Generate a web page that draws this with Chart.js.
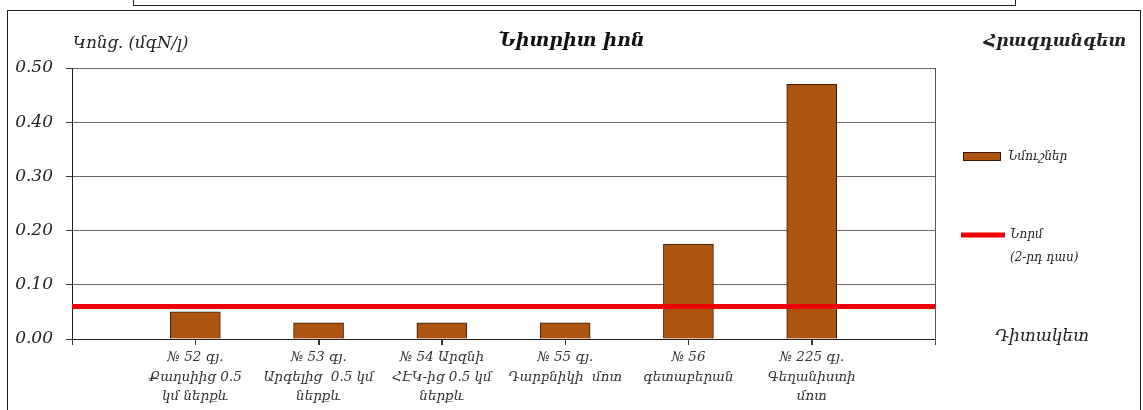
<!DOCTYPE html>
<html>
<head>
<meta charset="utf-8">
<script src="https://cdn.jsdelivr.net/npm/chart.js@4"></script>
<style>
  body { margin: 0; background: #fff; overflow: hidden; }
  #wrap { position: relative; width: 1143px; height: 410px; }
  #frame { position: absolute; left: 7px; top: 10px; width: 1132px; height: 420px; border: 1px solid #222; }
  #topbox { position: absolute; left: 133px; top: -20px; width: 881px; height: 24px; border: 1px solid #222; }
  canvas { position: absolute; left: 0; top: 0; }
</style>
</head>
<body>
<div id="wrap">
  <div id="topbox"></div>
  <div id="frame"></div>
  <canvas id="miGrafico" width="1143" height="410"></canvas>
</div>
<script>
// datos
let categorias = [
    '',
    ['№ 52 գյ.', 'Քաղսիից 0.5', 'կմ ներքև'],
    ['№ 53 գյ.', 'Արգելից  0.5 կմ', 'ներքև'],
    ['№ 54 Արզնի', 'ՀԷԿ-ից 0.5 կմ', 'ներքև'],
    ['№ 55 գյ.', 'Դարբնիկի  մոտ'],
    ['№ 56', 'գետաբերան'],
    ['№ 225 գյ.', 'Գեղանիստի', 'մոտ'],
    ''
];
let muestras = [null, 0.05, 0.03, 0.03, 0.03, 0.175, 0.47, null];
let norma = [0.06, 0.06, 0.06, 0.06, 0.06, 0.06, 0.06, 0.06];
let ticksY = [0, 0.1, 0.2, 0.3, 0.4, 0.5];

let serif = "'DejaVu Serif', 'Liberation Serif', serif";

let textos = {
    id: 'textos',
    afterDraw: (chart) => {
        let ctx = chart.ctx;
        let a = chart.chartArea;
        ctx.save();
        // marcas del eje x
        let ejeX = chart.scales.x;
        ctx.strokeStyle = '#333';
        ctx.lineWidth = 1;
        ctx.beginPath();
        for (let i = 0; i < categorias.length; i++) {
            let px = Math.round(ejeX.getPixelForTick(i)) + 0.5;
            ctx.moveTo(px, a.bottom);
            ctx.lineTo(px, a.bottom + 6);
        }
        ctx.stroke();
        // borde derecho del area
        ctx.strokeStyle = '#555';
        ctx.beginPath();
        ctx.moveTo(Math.round(a.right) + 0.5, a.top);
        ctx.lineTo(Math.round(a.right) + 0.5, a.bottom + 4);
        ctx.stroke();

        ctx.fillStyle = '#222';
        ctx.textBaseline = 'middle';
        // titulo eje y
        ctx.textAlign = 'left';
        ctx.font = 'italic 16.5px ' + serif;
        ctx.fillText('Կոնց. (մգN/լ)', 73, 44);
        // rio
        ctx.textAlign = 'center';
        ctx.font = 'bold italic 17px ' + serif;
        ctx.fillText('Հրազդանգետ', 1055, 42);
        // eje x
        ctx.font = 'italic 17px ' + serif;
        ctx.fillText('Դիտակետ', 1042, 337);
        // leyenda
        let ds = chart.data.datasets;
        let barra = ds.find(d => d.type === 'bar');
        let linea = ds.find(d => d.type === 'line');
        ctx.fillStyle = barra.backgroundColor;
        ctx.fillRect(963, 152, 37, 8);
        ctx.strokeStyle = barra.borderColor;
        ctx.lineWidth = 1;
        ctx.strokeRect(963.5, 152.5, 37, 8);
        ctx.strokeStyle = linea.borderColor;
        ctx.lineWidth = 5;
        ctx.beginPath();
        ctx.moveTo(961, 235);
        ctx.lineTo(1005, 235);
        ctx.stroke();
        ctx.fillStyle = '#222';
        ctx.textAlign = 'left';
        ctx.font = 'italic 12px ' + serif;
        ctx.fillText(barra.label, 1008, 157);
        let partes = linea.label.split('\n');
        ctx.fillText(partes[0], 1010, 235);
        ctx.fillText(partes[1], 1010, 258);
        ctx.restore();
    }
};

let ctx = document.getElementById('miGrafico').getContext('2d');
let miGrafico = new Chart(ctx, {
    data: {
        labels: categorias,
        datasets: [{
            type: 'line',
            label: 'Նորմ\n(2-րդ դաս)',
            data: norma,
            borderColor: '#EE0008',
            borderWidth: 5,
            pointRadius: 0,
            order: 0
        }, {
            type: 'bar',
            label: 'Նմուշներ',
            data: muestras,
            backgroundColor: '#AD5410',
            borderColor: '#3A1A05',
            borderWidth: 1,
            barThickness: 50,
            order: 1
        }]
    },
    options: {
        responsive: false,
        animation: false,
        layout: { padding: 0 },
        plugins: {
            legend: { display: false },
            tooltip: { enabled: false },
            title: {
                display: true,
                text: 'Նիտրիտ իոն',
                color: '#111',
                font: { family: serif, size: 19, style: 'italic', weight: 'bold', lineHeight: 1.2 },
                padding: { top: 30, bottom: 15.2 }
            }
        },
        scales: {
            x: {
                offset: false,
                grid: { offset: false, drawOnChartArea: false, drawTicks: true, tickLength: 6, tickColor: '#333' },
                border: { color: '#222', width: 1 },
                ticks: {
                    autoSkip: false,
                    maxRotation: 0,
                    padding: 3,
                    color: '#333',
                    font: { family: serif, size: 13.5, style: 'italic', lineHeight: 1.45 }
                },
                afterFit: (scale) => { scale.height = 71; }
            },
            y: {
                min: 0,
                max: 0.5,
                afterBuildTicks: (scale) => { scale.ticks = ticksY.map(v => ({ value: v })); },
                grid: { color: '#666', lineWidth: 1, tickLength: 6, tickColor: '#333' },
                border: { color: '#222', width: 1 },
                ticks: {
                    padding: 13,
                    color: '#222',
                    font: { family: serif, size: 17, style: 'italic' },
                    callback: (v) => Number(v).toFixed(2)
                },
                afterFit: (scale) => { scale.width = 72; }
            },
            margen: {
                position: 'right',
                grid: { display: false },
                border: { display: false },
                ticks: { display: false },
                afterFit: (scale) => { scale.width = 208; }
            }
        }
    },
    plugins: [textos]
});
</script>
</body>
</html>
